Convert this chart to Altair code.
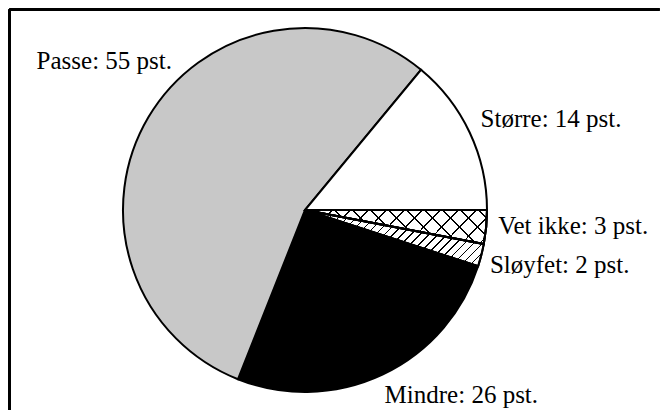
import math
import altair as alt
import pandas as pd

# ---- data (clockwise from 3 o'clock) ----
categories = ["Vet ikke", "Sløyfet", "Mindre", "Passe", "Større"]
values = [3, 2, 26, 55, 14]

df = pd.DataFrame({
    "kategori": categories,
    "pst": values,
    "rekkefolge": list(range(len(categories))),
})
df["etikett"] = df["kategori"] + ": " + df["pst"].astype(str) + " pst."

# ---- layout / style ----
W, H = 650, 400.5
CX, CY = 295.5, 200.5
R = 182
FONT = "Liberation Serif"

theta_scale = alt.Scale(domain=[0, 1], range=[math.pi / 2, math.pi / 2 + 2 * math.pi])

solid_fill = {"Vet ikke": "white", "Sløyfet": "white", "Mindre": "black",
              "Passe": "#c8c8c8", "Større": "white"}


def stripes(period, line, x1, y1, x2, y2):
    clear = "rgba(0,0,0,0)"
    stops = [{"offset": 0, "color": clear}]
    t = period / 2
    while t + line < 1:
        a, b = round(t, 4), round(t + line, 4)
        stops += [{"offset": a, "color": clear}, {"offset": a, "color": "black"},
                  {"offset": b, "color": "black"}, {"offset": b, "color": clear}]
        t += period
    stops.append({"offset": 1, "color": clear})
    return {"gradient": "linear", "x1": x1, "y1": y1, "x2": x2, "y2": y2, "stops": stops}


base = alt.Chart(df).transform_stack(
    stack="pst", groupby=[], as_=["start", "end"], offset="normalize",
    sort=[alt.SortField("rekkefolge", order="ascending")],
).transform_calculate(mid="(datum.start + datum.end) / 2")


def arc(**kw):
    return base.mark_arc(radius=R, stroke="black", strokeWidth=2, **kw).encode(
        theta=alt.Theta("start:Q", scale=theta_scale),
        theta2="end:Q",
        x=alt.value(CX), y=alt.value(CY),
    )


pie = arc().encode(
    fill=alt.Fill("kategori:N",
                  scale=alt.Scale(domain=categories, range=[solid_fill[c] for c in categories]),
                  legend=None)
)

hatch_vet1 = arc(fill=stripes(0.0796, 0.0065, 0, 0, 1.2, 0.224)).transform_filter(
    alt.datum.kategori == "Vet ikke")
hatch_vet2 = arc(fill=stripes(0.0796, 0.0065, 0, 1, 1.2, 0.776)).transform_filter(
    alt.datum.kategori == "Vet ikke")
hatch_sloy = arc(fill=stripes(0.038, 0.0058, 0, 0, 1.2, 0.377)).transform_filter(
    alt.datum.kategori == "Sløyfet")

label_style = {
    "Større": dict(align="left", dx=0, dy=0),
    "Vet ikke": dict(align="left", dx=0, dy=6),
    "Sløyfet": dict(align="left", dx=-3, dy=15),
    "Mindre": dict(align="left", dx=-3, dy=17),
    "Passe": dict(align="right", dx=34, dy=-42),
}

labels = []
for k, st in label_style.items():
    labels.append(
        base.mark_text(font=FONT, fontSize=25, baseline="alphabetic", radius=194,
                       color="black", **st)
        .encode(
            theta=alt.Theta("mid:Q", scale=theta_scale, stack=None),
            text="etikett:N",
            x=alt.value(CX), y=alt.value(CY),
        )
        .transform_filter(alt.datum.kategori == k)
    )

# frame: only the top and left edges fall inside the picture
frame_top = alt.Chart(df).mark_rule(color="black", strokeWidth=2.5).encode(
    x=alt.value(0), x2=alt.value(W), y=alt.value(0))
frame_left = alt.Chart(df).mark_rule(color="black", strokeWidth=2.5).encode(
    x=alt.value(0), y=alt.value(0), y2=alt.value(H))

chart = alt.layer(pie, hatch_vet1, hatch_vet2, hatch_sloy, *labels,
                  frame_top, frame_left).properties(
    width=W, height=H,
    padding={"left": 1.5, "top": 1.5, "right": 0, "bottom": 0},
    autosize="none",
    background="white",
).configure_view(stroke=None)

chart.save("out.html", embed_options={"renderer": "svg", "actions": False})
